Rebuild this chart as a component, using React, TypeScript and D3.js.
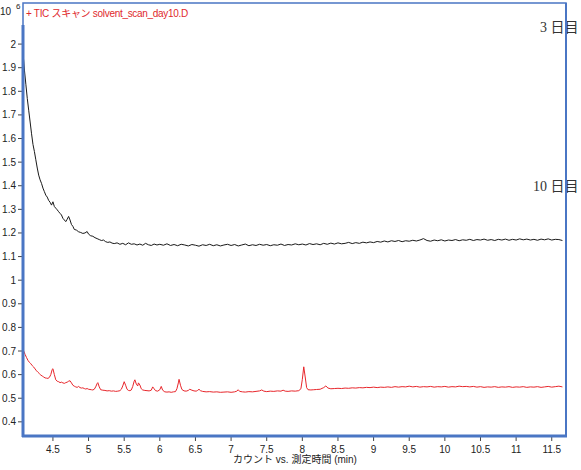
import React from "react";
import * as d3 from "d3";

const xTicks = [4.5, 5, 5.5, 6, 6.5, 7, 7.5, 8, 8.5, 9, 9.5, 10, 10.5, 11, 11.5];
const yTicks = [0.4, 0.5, 0.6, 0.7, 0.8, 0.9, 1, 1.1, 1.2, 1.3, 1.4, 1.5, 1.6, 1.7, 1.8, 1.9, 2];

const titleText = "+ TIC スキャン solvent_scan_day10.D";
const xAxisLabel = "カウント vs. 測定時間 (min)";
const labelDay3 = "3 日目";
const labelDay10 = "10 日目";

const day3Times = [
  4.08, 4.09, 4.10, 4.12, 4.14, 4.16, 4.18, 4.20, 4.22, 4.24, 4.26, 4.28, 4.30, 4.32, 4.34, 4.36, 4.38, 4.40,
  4.42, 4.44, 4.46, 4.48, 4.50, 4.52, 4.54, 4.56, 4.58, 4.60, 4.62, 4.64, 4.66, 4.68, 4.70, 4.72, 4.74, 4.76,
  4.78, 4.80, 4.83, 4.86, 4.89, 4.92, 4.95, 4.98, 5.00, 5.03, 5.06, 5.09, 5.12, 5.15, 5.18, 5.21, 5.24, 5.27,
  5.30, 5.33, 5.36, 5.40, 5.44, 5.48, 5.52, 5.56, 5.60, 5.64, 5.68, 5.72, 5.76, 5.80, 5.84, 5.88, 5.92, 5.96,
  6.00, 6.05, 6.10, 6.15, 6.20, 6.25, 6.30, 6.35, 6.40, 6.45, 6.50, 6.55, 6.60, 6.65, 6.70, 6.75, 6.80, 6.85,
  6.90, 6.95, 7.00, 7.05, 7.10, 7.15, 7.20, 7.25, 7.30, 7.35, 7.40, 7.45, 7.50, 7.55, 7.60, 7.65, 7.70, 7.75,
  7.80, 7.85, 7.90, 7.95, 8.00, 8.05, 8.10, 8.15, 8.20, 8.25, 8.30, 8.35, 8.40, 8.45, 8.50, 8.55, 8.60, 8.65,
  8.70, 8.75, 8.80, 8.85, 8.90, 8.95, 9.00, 9.05, 9.10, 9.15, 9.20, 9.25, 9.30, 9.35, 9.40, 9.45, 9.50, 9.55,
  9.60, 9.65, 9.70, 9.75, 9.80, 9.85, 9.90, 9.95, 10.00, 10.05, 10.10, 10.15, 10.20, 10.25, 10.30, 10.35, 10.40,
  10.45, 10.50, 10.55, 10.60, 10.65, 10.70, 10.75, 10.80, 10.85, 10.90, 10.95, 11.00, 11.05, 11.10, 11.15,
  11.20, 11.25, 11.30, 11.35, 11.40, 11.45, 11.50, 11.55, 11.60, 11.65,
];
const day3Values = [
  1.955, 1.93, 1.89, 1.83, 1.77, 1.72, 1.67, 1.62, 1.575, 1.545, 1.51, 1.475, 1.445, 1.425, 1.41, 1.39, 1.375, 1.36,
  1.352, 1.338, 1.33, 1.318, 1.332, 1.312, 1.305, 1.298, 1.29, 1.283, 1.276, 1.262, 1.255, 1.248, 1.258, 1.27, 1.255, 1.236,
  1.228, 1.215, 1.212, 1.205, 1.202, 1.198, 1.2, 1.206, 1.195, 1.188, 1.186, 1.18, 1.176, 1.172, 1.168, 1.17, 1.163, 1.16,
  1.162, 1.157, 1.155, 1.158, 1.152, 1.156, 1.15, 1.158, 1.152, 1.154, 1.149, 1.153, 1.148, 1.156, 1.15, 1.147, 1.153, 1.149,
  1.152, 1.148, 1.154, 1.147, 1.151, 1.146, 1.152, 1.149, 1.145, 1.151, 1.148, 1.144, 1.15, 1.147, 1.152, 1.146, 1.15, 1.145,
  1.149, 1.152, 1.147, 1.151, 1.145, 1.149, 1.153, 1.146, 1.15, 1.147, 1.152, 1.148, 1.151, 1.146, 1.15, 1.148, 1.153, 1.147,
  1.151, 1.149, 1.154, 1.15, 1.153, 1.149, 1.155, 1.151, 1.154, 1.15, 1.156, 1.152, 1.157, 1.153, 1.158, 1.154, 1.156, 1.16,
  1.155, 1.159, 1.156, 1.161, 1.158, 1.162, 1.159, 1.164, 1.161, 1.166, 1.162, 1.167, 1.164, 1.168, 1.163, 1.167, 1.165, 1.169,
  1.166, 1.17, 1.176, 1.168, 1.165, 1.17, 1.167, 1.171, 1.166, 1.17, 1.168, 1.172, 1.167, 1.171, 1.169, 1.173, 1.168,
  1.172, 1.17, 1.174, 1.169, 1.172, 1.168, 1.173, 1.17, 1.174, 1.169, 1.173, 1.17, 1.175, 1.171, 1.174,
  1.17, 1.173, 1.169, 1.174, 1.171, 1.175, 1.17, 1.173, 1.172, 1.168,
];

const day10Times = [
  4.08, 4.09, 4.11, 4.13, 4.15, 4.17, 4.19, 4.21, 4.23, 4.25, 4.27, 4.29, 4.31, 4.33, 4.35, 4.37, 4.39, 4.41,
  4.43, 4.45, 4.47, 4.49, 4.50, 4.52, 4.54, 4.56, 4.58, 4.60, 4.62, 4.64, 4.66, 4.68, 4.70, 4.72, 4.74, 4.76,
  4.78, 4.80, 4.82, 4.84, 4.86, 4.88, 4.90, 4.92, 4.94, 4.96, 4.98, 5.00, 5.02, 5.04, 5.06, 5.08, 5.10, 5.12,
  5.13, 5.15, 5.17, 5.20, 5.23, 5.26, 5.29, 5.32, 5.35, 5.38, 5.41, 5.44, 5.46, 5.48, 5.50, 5.52, 5.54, 5.56,
  5.58, 5.60, 5.62, 5.64, 5.65, 5.67, 5.69, 5.70, 5.72, 5.74, 5.76, 5.79, 5.82, 5.85, 5.88, 5.90, 5.92, 5.94,
  5.97, 6.00, 6.02, 6.04, 6.07, 6.10, 6.13, 6.16, 6.19, 6.22, 6.24, 6.26, 6.27, 6.29, 6.31, 6.34, 6.37, 6.40,
  6.42, 6.45, 6.48, 6.51, 6.53, 6.55, 6.57, 6.60, 6.65, 6.70, 6.75, 6.80, 6.85, 6.90, 6.95, 7.00, 7.05, 7.08,
  7.10, 7.12, 7.16, 7.20, 7.25, 7.30, 7.35, 7.40, 7.43, 7.46, 7.50, 7.55, 7.60, 7.65, 7.70, 7.73, 7.76, 7.80,
  7.85, 7.90, 7.95, 7.98, 8.00, 8.02, 8.04, 8.06, 8.08, 8.12, 8.16, 8.20, 8.25, 8.30, 8.33, 8.36, 8.40, 8.45,
  8.50, 8.55, 8.60, 8.65, 8.70, 8.75, 8.80, 8.85, 8.90, 8.95, 9.00, 9.05, 9.10, 9.15, 9.20, 9.25, 9.30, 9.35,
  9.40, 9.45, 9.50, 9.55, 9.60, 9.65, 9.70, 9.75, 9.80, 9.85, 9.90, 9.95, 10.00, 10.05, 10.10, 10.15, 10.20,
  10.25, 10.30, 10.35, 10.40, 10.45, 10.50, 10.55, 10.60, 10.65, 10.70, 10.75, 10.80, 10.85, 10.90, 10.95,
  11.00, 11.05, 11.10, 11.15, 11.20, 11.25, 11.30, 11.35, 11.40, 11.45, 11.50, 11.55, 11.60, 11.65,
];
const day10Values = [
  0.71, 0.70, 0.685, 0.672, 0.66, 0.652, 0.646, 0.638, 0.632, 0.624, 0.616, 0.61, 0.604, 0.598, 0.594, 0.59, 0.586, 0.585,
  0.584, 0.588, 0.60, 0.622, 0.625, 0.60, 0.578, 0.572, 0.57, 0.566, 0.568, 0.565, 0.563, 0.566, 0.568, 0.572, 0.574, 0.565,
  0.555, 0.551, 0.548, 0.546, 0.55, 0.545, 0.543, 0.544, 0.541, 0.539, 0.541, 0.538, 0.537, 0.536, 0.535, 0.538, 0.548, 0.562,
  0.566, 0.548, 0.536, 0.534, 0.533, 0.531, 0.532, 0.53, 0.531, 0.529, 0.53, 0.532, 0.538, 0.552, 0.57, 0.555, 0.538, 0.533,
  0.532, 0.535, 0.55, 0.572, 0.578, 0.56, 0.552, 0.565, 0.556, 0.54, 0.535, 0.533, 0.532, 0.531, 0.534, 0.548, 0.54, 0.532,
  0.53, 0.536, 0.55, 0.534, 0.527, 0.526, 0.527, 0.525, 0.527, 0.528, 0.54, 0.565, 0.58, 0.555, 0.537, 0.531, 0.53, 0.533,
  0.538, 0.534, 0.531, 0.53, 0.533, 0.538, 0.532, 0.529, 0.527, 0.528, 0.526, 0.527, 0.525, 0.526, 0.527, 0.525, 0.527, 0.53,
  0.536, 0.529, 0.527, 0.526, 0.528, 0.527, 0.529, 0.531, 0.535, 0.53, 0.528, 0.53, 0.529, 0.531, 0.53, 0.534, 0.53, 0.529,
  0.531, 0.53, 0.532, 0.54, 0.58, 0.633, 0.59, 0.545, 0.536, 0.535, 0.536, 0.537, 0.538, 0.545, 0.552, 0.543, 0.54, 0.541,
  0.542, 0.541, 0.543, 0.542, 0.544, 0.543, 0.545, 0.544, 0.546, 0.545, 0.547, 0.545, 0.547, 0.546, 0.548, 0.546, 0.549, 0.547,
  0.549, 0.548, 0.551, 0.548, 0.55, 0.547, 0.549, 0.548, 0.55, 0.547, 0.549, 0.548, 0.55, 0.547, 0.549, 0.548, 0.551,
  0.549, 0.55, 0.548, 0.55, 0.547, 0.549, 0.546, 0.548, 0.547, 0.549, 0.546, 0.548, 0.547, 0.549, 0.546,
  0.548, 0.547, 0.549, 0.546, 0.548, 0.547, 0.549, 0.546, 0.548, 0.55, 0.547, 0.549, 0.551, 0.548,
];

const W = 581;
const H = 470;
const FL = 23, FR = 566, FT = 3, FB = 436;
const SANS = "'Liberation Sans', Arial, 'Noto Sans CJK JP', sans-serif";
const SERIF = "'Liberation Serif', 'DejaVu Serif', 'Noto Sans CJK JP', serif";
const BLUE = "#4a76c4";

export default function App() {
  const x = d3.scaleLinear().domain([4.08, 11.7]).range([FL, FR]);
  const y = d3.scaleLinear().domain([0.34, 2.174]).range([FB, FT]);
  const line = d3
    .line<[number, number]>()
    .x((d) => x(d[0]))
    .y((d) => y(d[1]));
  const d3pts = day3Times.map((t, i) => [t, day3Values[i]] as [number, number]);
  const d10pts = day10Times.map((t, i) => [t, day10Values[i]] as [number, number]);
  const fmt = (v: number) => String(+v.toFixed(1));

  return (
    <svg
      width={W}
      height={H}
      style={{ position: "absolute", left: 0, top: 0, display: "block", background: "#fff" }}
    >
      <defs>
        <clipPath id="plotclip">
          <rect x={FL} y={FT} width={FR - FL} height={FB - FT} />
        </clipPath>
      </defs>
      <rect x={0} y={0} width={W} height={H} fill="#fff" />

      {/* exponent */}
      <text x={0} y={15} fontFamily={SANS} fontSize={10} fill="#222">10</text>
      <text x={16} y={9} fontFamily={SANS} fontSize={8} fill="#222">6</text>

      {/* y ticks */}
      {yTicks.map((v) => (
        <g key={"y" + v}>
          <line x1={18} x2={FL} y1={y(v)} y2={y(v)} stroke="#444" strokeWidth={1} />
          <text x={16} y={y(v) + 3.5} textAnchor="end" fontFamily={SANS} fontSize={10} fill="#222">
            {fmt(v)}
          </text>
        </g>
      ))}

      {/* x ticks */}
      {xTicks.map((v) => (
        <g key={"x" + v}>
          <line x1={x(v)} x2={x(v)} y1={FB} y2={FB + 5} stroke="#444" strokeWidth={1} />
          <text x={x(v)} y={FB + 17} textAnchor="middle" fontFamily={SANS} fontSize={10} fill="#222">
            {fmt(v)}
          </text>
        </g>
      ))}

      <text x={295} y={463} textAnchor="middle" fontFamily={SANS} fontSize={10} fill="#222">
        {xAxisLabel}
      </text>

      {/* day labels */}
      <text x={540} y={32} fontFamily={SERIF} fontSize={14} fill="#333">{labelDay3}</text>
      <text x={533} y={191} fontFamily={SERIF} fontSize={14} fill="#333">{labelDay10}</text>

      <g clipPath="url(#plotclip)">
        <path d={line(d3pts) || ""} fill="none" stroke="#1a1a1a" strokeWidth={1} />
        <path d={line(d10pts) || ""} fill="none" stroke="#e8262b" strokeWidth={1} />
      </g>

      <text x={26} y={17} fontFamily={SANS} fontSize={10} letterSpacing={-0.3} fill="#e0282c">{titleText}</text>

      {/* frame */}
      <rect x={FL} y={FT} width={FR - FL} height={FB - FT} fill="none" stroke={BLUE} strokeWidth={1.5} />
      <line x1={FL} x2={FL} y1={25} y2={FB + 1} stroke={BLUE} strokeWidth={3} />
      <line x1={FL - 1} x2={FR + 1} y1={FB} y2={FB} stroke={BLUE} strokeWidth={3} />
      <line x1={FR} x2={FR} y1={FT} y2={FB} stroke={BLUE} strokeWidth={2} />
    </svg>
  );
}
